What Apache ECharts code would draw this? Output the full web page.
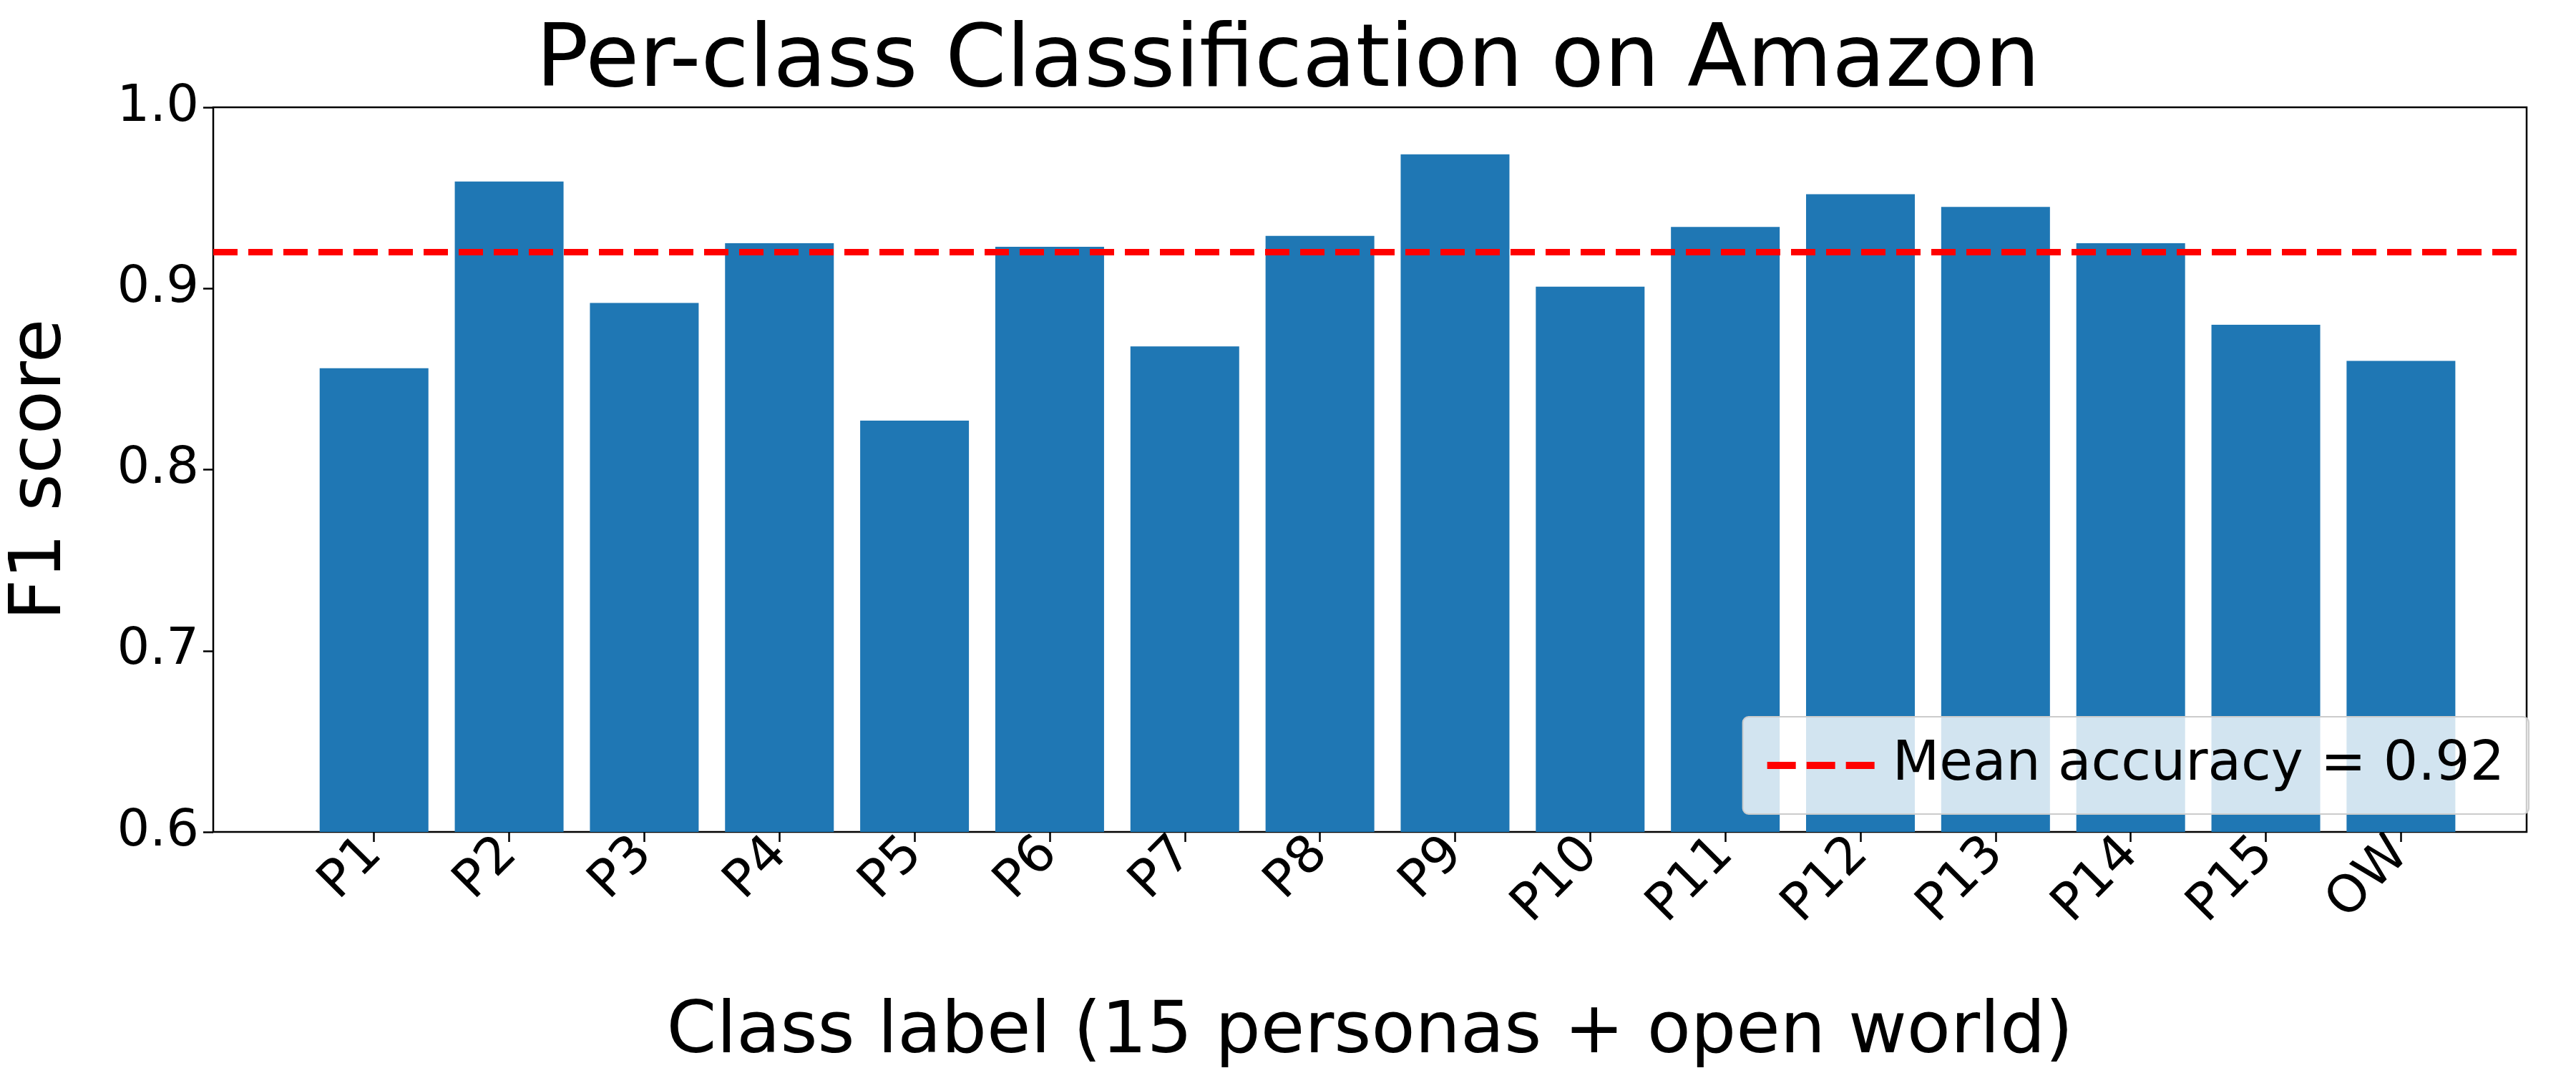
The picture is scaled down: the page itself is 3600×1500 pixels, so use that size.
<!DOCTYPE html>
<html>
<head>
<meta charset="utf-8">
<title>Per-class Classification on Amazon</title>
<script src="https://cdn.jsdelivr.net/npm/echarts@6/dist/echarts.min.js"></script>
<style>
  html, body { margin: 0; padding: 0; background: #fff; }
  #chart { width: 3600px; height: 1500px; }
</style>
</head>
<body>
<div id="chart"></div>
<script>
var categories = ['P1', 'P2', 'P3', 'P4', 'P5', 'P6', 'P7', 'P8', 'P9', 'P10', 'P11', 'P12', 'P13', 'P14', 'P15', 'OW'];
var f1Scores = [0.856, 0.959, 0.892, 0.925, 0.827, 0.923, 0.868, 0.929, 0.974, 0.901, 0.934, 0.952, 0.945, 0.925, 0.880, 0.860];
var meanAccuracy = 0.92;

var font = 'DejaVu Sans';
var idx = [];
var barData = [];
for (var i = 0; i < categories.length; i++) {
  idx.push(i);
  barData.push([i, f1Scores[i]]);
}
var legendName = 'Mean accuracy = ' + meanAccuracy.toFixed(2);

var chart = echarts.init(document.getElementById('chart'));
chart.setOption({
  animation: false,
  title: {
    text: 'Per-class Classification on Amazon',
    left: 'center',
    top: 22,
    textStyle: { fontFamily: font, fontSize: 122, fontWeight: 'normal', color: '#000' }
  },
  grid: {
    left: 288, right: 69, top: 150, bottom: 323,
    show: true, borderColor: '#000', borderWidth: 2.5, backgroundColor: 'transparent'
  },
  legend: {
    data: [{ name: legendName }],
    right: 66, bottom: 362,
    padding: [30, 34, 30, 34],
    itemWidth: 150, itemHeight: 14,
    icon: 'path://M0,0h40v10h-40z M55,0h40v10h-40z M110,0h40v10h-40z',
    backgroundColor: 'rgba(255,255,255,0.8)',
    borderColor: '#cccccc', borderWidth: 2, borderRadius: 8,
    textStyle: { fontFamily: font, fontSize: 76, color: '#000', padding: [0, 0, 0, 20] }
  },
  xAxis: {
    type: 'value',
    min: -1.19, max: 15.93,
    name: 'Class label (15 personas + open world)',
    nameLocation: 'middle',
    nameGap: 232,
    nameTextStyle: { fontFamily: font, fontSize: 100, color: '#000' },
    splitLine: { show: false },
    axisLine: { show: false, onZero: false },
    axisTick: { show: true, customValues: idx, length: 14, lineStyle: { color: '#000', width: 2.5 } },
    axisLabel: {
      customValues: idx,
      rotate: 45,
      margin: 20,
      fontFamily: font, fontSize: 72, color: '#000',
      formatter: function (v) { return categories[Math.round(v)]; }
    }
  },
  yAxis: {
    type: 'value',
    min: 0.6, max: 1.0, interval: 0.1,
    name: 'F1 score',
    nameLocation: 'middle',
    nameGap: 190,
    nameTextStyle: { fontFamily: font, fontSize: 100, color: '#000' },
    splitLine: { show: false },
    axisLine: { show: false, onZero: false },
    axisTick: { show: true, length: 14, lineStyle: { color: '#000', width: 2.5 } },
    axisLabel: {
      margin: 20, fontFamily: font, fontSize: 72, color: '#000',
      formatter: function (v) { return v.toFixed(1); }
    }
  },
  series: [{
    type: 'bar',
    data: barData,
    barWidth: 152,
    itemStyle: { color: '#1f77b4' },
    z: 2
  }, {
    name: legendName,
    type: 'line',
    data: [],
    symbol: 'none',
    lineStyle: { color: '#ff0000', width: 9, type: [34, 15] },
    itemStyle: { color: '#ff0000' },
    markLine: {
      silent: true,
      symbol: 'none',
      label: { show: false },
      lineStyle: { color: '#ff0000', width: 9, type: [34, 15] },
      data: [{ yAxis: meanAccuracy }],
      z: 5
    }
  }]
});
</script>
</body>
</html>
